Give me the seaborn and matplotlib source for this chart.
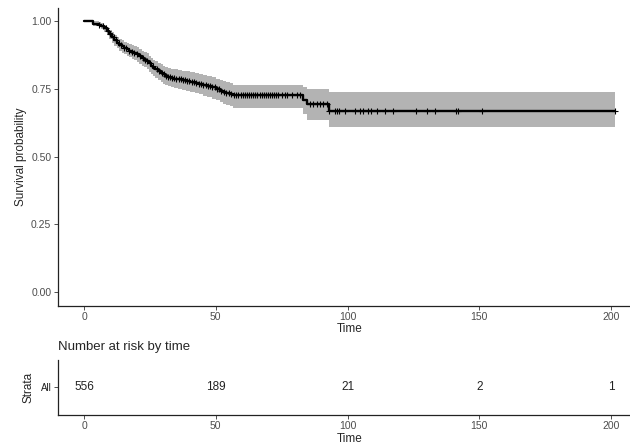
import numpy as np
import pandas as pd
import matplotlib
matplotlib.use("Agg")
import matplotlib.pyplot as plt
import seaborn as sns

# Kaplan-Meier step table
step_time = [0, 3.5, 5.5, 6.5, 7.5, 8.6, 9.5, 10.5, 11.4, 12.4,
             13.3, 14.3, 15.2, 16.2, 17.1, 18.0, 19.0, 20.0, 21.0, 22.0,
             22.9, 23.8, 24.7, 25.5, 26.3, 27.0, 28.0, 29.0, 29.9, 30.7,
             31.8, 33.0, 34.3, 35.7, 37.0, 38.5, 40.2, 42.0, 43.5, 45.0,
             46.7, 48.4, 50.0, 51.6, 52.8, 54.0, 55.2, 56.5, 83.0, 84.5,
             92.8, 201.5]
surv = [1.0, 0.991, 0.986, 0.982, 0.973, 0.963, 0.952, 0.940, 0.930, 0.920,
        0.913, 0.907, 0.901, 0.896, 0.891, 0.886, 0.882, 0.877, 0.870, 0.864,
        0.858, 0.853, 0.844, 0.835, 0.828, 0.822, 0.815, 0.809, 0.803, 0.798,
        0.794, 0.790, 0.788, 0.786, 0.782, 0.779, 0.776, 0.773, 0.769, 0.764,
        0.760, 0.755, 0.749, 0.743, 0.739, 0.735, 0.731, 0.727, 0.710, 0.693,
        0.669, 0.669]
lower = [1.0, 0.983, 0.977, 0.971, 0.960, 0.948, 0.935, 0.921, 0.910, 0.899,
         0.891, 0.884, 0.877, 0.871, 0.866, 0.860, 0.855, 0.850, 0.842, 0.835,
         0.829, 0.823, 0.813, 0.804, 0.796, 0.790, 0.782, 0.776, 0.769, 0.764,
         0.759, 0.755, 0.752, 0.750, 0.745, 0.742, 0.738, 0.735, 0.730, 0.725,
         0.720, 0.714, 0.707, 0.700, 0.695, 0.690, 0.686, 0.681, 0.658, 0.636,
         0.608, 0.608]
upper = [1.0, 0.999, 0.995, 0.992, 0.985, 0.977, 0.968, 0.958, 0.949, 0.940,
         0.934, 0.929, 0.924, 0.920, 0.915, 0.911, 0.907, 0.903, 0.897, 0.891,
         0.886, 0.881, 0.873, 0.865, 0.858, 0.853, 0.846, 0.841, 0.835, 0.831,
         0.827, 0.824, 0.822, 0.820, 0.817, 0.815, 0.812, 0.810, 0.806, 0.802,
         0.798, 0.794, 0.788, 0.783, 0.779, 0.775, 0.770, 0.765, 0.756, 0.748,
         0.740, 0.740]

# censoring times (tick marks on the curve)
censor_time = [5.5, 7.0, 8.2, 9.1, 10.0, 11.2, 12.0, 13.1, 14.0, 15.2,
               16.0, 17.1, 18.3, 19.0, 20.2, 21.1, 22.4, 23.2, 24.0, 25.1,
               26.2, 27.5, 28.3, 29.4, 30.2, 31.0, 31.8, 32.6, 33.5, 34.2,
               35.0, 35.9, 36.8, 37.6, 38.4, 39.2, 40.0, 40.9, 41.7, 42.6,
               43.5, 44.3, 45.2, 46.1, 47.0, 47.8, 48.7, 49.5, 50.4, 51.2,
               52.1, 53.0, 54.0, 55.0, 55.8, 57.0, 57.8, 58.6, 59.4, 60.2,
               61.0, 61.8, 62.6, 63.4, 64.2, 65.0, 65.8, 66.6, 67.4, 68.2,
               69.0, 69.8, 70.6, 71.4, 72.2, 73.0, 73.6, 75.0, 76.3, 77.2,
               78.8, 80.7, 82.0, 85.8, 87.0, 88.3, 89.5, 90.6, 92.1, 93.1,
               95.3, 95.9, 96.9, 99.1, 102.9, 104.8, 105.8, 107.9, 108.8, 111.1,
               114.2, 117.1, 126.0, 130.0, 133.2, 141.2, 141.8, 151.2, 201.5]

# number at risk table
risk_time = [0, 50, 100, 150, 200]
n_risk = [556, 189, 21, 2, 1]
strata = ["All"]

km = pd.DataFrame({"time": step_time, "surv": surv, "lower": lower, "upper": upper})
idx = np.searchsorted(km["time"].values, censor_time, side="right") - 1
cens = pd.DataFrame({"time": censor_time, "surv": km["surv"].values[idx]})
risk = pd.DataFrame({"time": risk_time, "n": n_risk})

sns.set_theme(style="ticks")
plt.rcParams["font.family"] = ["Liberation Sans", "DejaVu Sans"]

tick_kw = dict(labelsize=7.5, labelcolor="#4D4D4D", length=3, width=0.6,
               color="#333333", pad=1.5)

fig = plt.figure(figsize=(6.3, 4.46), dpi=100)

# survival curve
ax = fig.add_axes([0.0913, 0.315, 0.929, 0.668])
ax.fill_between(km["time"], km["lower"], km["upper"], step="post",
                color="#B3B3B3", linewidth=0)
sns.lineplot(data=km, x="time", y="surv", ax=ax, color="black",
             linewidth=1.7, drawstyle="steps-post", estimator=None)
ax.plot(cens["time"], cens["surv"], linestyle="none", marker="+",
        markersize=4, markeredgewidth=0.8, color="black")
ax.set_xlim(-10.1, 212.1)
ax.set_ylim(-0.05, 1.05)
ax.set_xticks([0, 50, 100, 150, 200])
ax.set_yticks([0, 0.25, 0.5, 0.75, 1.0])
ax.set_yticklabels(["0.00", "0.25", "0.50", "0.75", "1.00"])
ax.set_xlabel("Time", fontsize=8.5, labelpad=1)
ax.set_ylabel("Survival probability", fontsize=8.5, labelpad=3)
ax.tick_params(**tick_kw)

# number at risk
axr = fig.add_axes([0.0913, 0.0695, 0.929, 0.1235])
for _, row in risk.iterrows():
    axr.text(row["time"], 0, str(int(row["n"])), ha="center", va="center",
             fontsize=8.5, color="#222222")
axr.set_xlim(-10.1, 212.1)
axr.set_ylim(-0.5, 0.5)
axr.set_xticks([0, 50, 100, 150, 200])
axr.set_yticks([0])
axr.set_yticklabels(strata)
axr.set_xlabel("Time", fontsize=8.5, labelpad=1)
axr.set_ylabel("Strata", fontsize=8.5, labelpad=4)
axr.set_title("Number at risk by time", loc="left", fontsize=9.5, pad=7)
axr.tick_params(**tick_kw)
axr.tick_params(axis="y", labelcolor="#222222", labelsize=7)

for a in (ax, axr):
    sns.despine(ax=a)
    for s in ("left", "bottom"):
        a.spines[s].set_linewidth(0.9)
        a.spines[s].set_color("#222222")

fig.savefig("out.png", dpi=100)
